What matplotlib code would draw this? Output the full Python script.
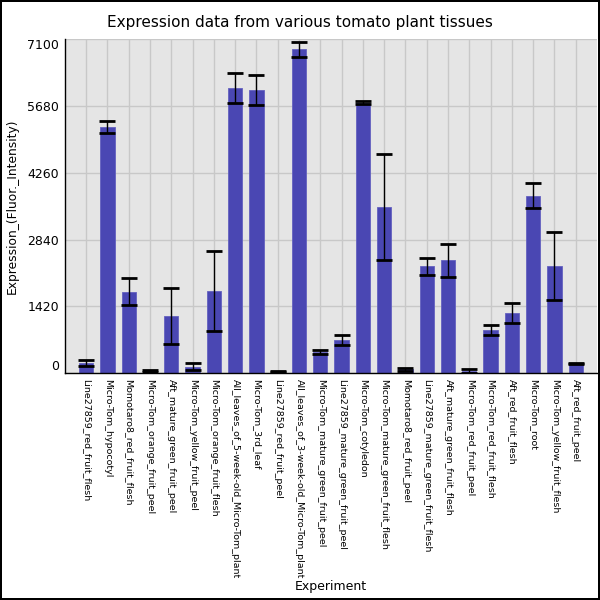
import matplotlib
matplotlib.use('Agg')
import matplotlib.pyplot as plt
import numpy as np

experiments = [
    'Line27859_red_fruit_flesh',
    'Micro-Tom_hypocotyl',
    'Momotaro8_red_fruit_flesh',
    'Micro-Tom_orange_fruit_peel',
    'Aft_mature_green_fruit_peel',
    'Micro-Tom_yellow_fruit_peel',
    'Micro-Tom_orange_fruit_flesh',
    'All_leaves_of_5-week-old_Micro-Tom_plant',
    'Micro-Tom_3rd_leaf',
    'Line27859_red_fruit_peel',
    'All_leaves_of_3-week-old_Micro-Tom_plant',
    'Micro-Tom_mature_green_fruit_peel',
    'Line27859_mature_green_fruit_peel',
    'Micro-Tom_cotyledon',
    'Micro-Tom_mature_green_fruit_flesh',
    'Momotaro8_red_fruit_peel',
    'Line27859_mature_green_fruit_flesh',
    'Aft_mature_green_fruit_flesh',
    'Micro-Tom_red_fruit_peel',
    'Micro-Tom_red_fruit_flesh',
    'Aft_red_fruit_flesh',
    'Micro-Tom_root',
    'Micro-Tom_yellow_fruit_flesh',
    'Aft_red_fruit_peel',
]
expression = [225, 5230, 1730, 55, 1220, 140, 1750, 6060, 6010, 42, 6880, 450,
              705, 5750, 3525, 85, 2270, 2400, 45, 925, 1285, 3770, 2275, 205]
errors = [65, 135, 290, 20, 595, 78, 845, 318, 318, 15, 156, 39,
          99, 25, 1130, 35, 177, 347, 45, 103, 212, 270, 715, 15]
y_ticks = [0, 1420, 2840, 4260, 5680, 7100]

fig = plt.figure(figsize=(6, 6), dpi=100)
fig.patch.set_edgecolor('black')
fig.patch.set_linewidth(1.5)
ax = fig.add_axes([0.108, 0.378, 0.887, 0.557])
ax.set_facecolor('#e5e5e5')

x = np.arange(len(experiments))
ax.set_axisbelow(True)
ax.grid(True, color='#c8c8c8', linewidth=1)
ax.bar(x, expression, width=0.67, color='#4a47b3', edgecolor='#6461c0', linewidth=0.6)
ax.errorbar(x, expression, yerr=errors, fmt='none', ecolor='black',
            elinewidth=1, capsize=6, capthick=2)

ax.set_xlim(-1, len(experiments))
ax.set_ylim(0, 7100)
ax.set_yticks(y_ticks)
ax.set_yticklabels([str(t) for t in y_ticks], fontsize=9)
labels = ax.get_yticklabels()
labels[0].set_va('bottom')
labels[-1].set_va('top')
ax.set_xticks(x)
ax.set_xticklabels(experiments, rotation=270, fontsize=6.8, va='top', ha='center')
ax.tick_params(length=0, pad=4)

for side in ['top', 'right']:
    ax.spines[side].set_visible(False)
for side in ['left', 'bottom']:
    ax.spines[side].set_color('black')
    ax.spines[side].set_linewidth(1)

ax.set_ylabel('Expression_(Fluor._Intensity)', fontsize=8.8, labelpad=6)
ax.set_xlabel('Experiment', fontsize=9, labelpad=1)
fig.suptitle('Expression data from various tomato plant tissues', fontsize=11, y=0.975)

fig.savefig('out.png', dpi=100, edgecolor=fig.get_edgecolor())
